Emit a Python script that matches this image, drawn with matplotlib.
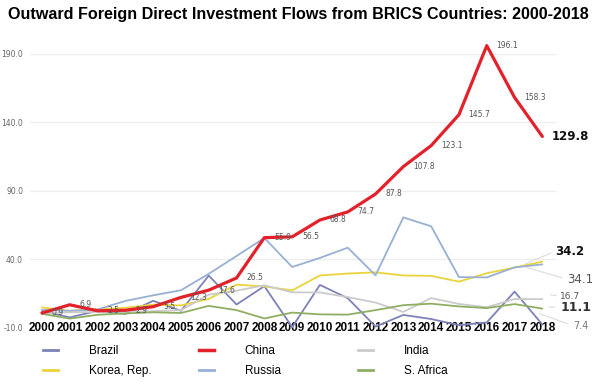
import matplotlib
matplotlib.use("Agg")
from matplotlib import pyplot as plt
from matplotlib.lines import Line2D

# Outward FDI flows, US$ billions
years = list(range(2000, 2019))
brazil = [2.3, -2.3, 2.5, 0.2, 9.8, 2.5, 28.2, 7.1, 20.5, -9.4, 21.4, 11.7,
          -9.0, -0.5, -3.5, -8.0, -6.0, 16.5, -7.5]
china = [0.9, 6.9, 2.5, 2.9, 5.5, 12.3, 17.6, 26.5, 55.9, 56.5, 68.8, 74.7,
         87.8, 107.8, 123.1, 145.7, 196.1, 158.3, 129.8]
india = [0.5, 1.4, 1.7, 1.9, 2.2, 3.0, 14.3, 17.2, 21.1, 16.0, 15.9, 12.5,
         8.5, 1.7, 11.8, 7.5, 5.1, 11.1, 11.0]
korea = [5.0, 2.4, 3.6, 4.7, 7.0, 6.4, 11.2, 21.6, 20.3, 17.4, 28.3, 29.7,
         30.6, 28.3, 28.0, 23.8, 29.9, 34.1, 38.4]
russia = [3.2, 2.5, 3.5, 9.7, 13.8, 17.5, 29.5, 42.5, 55.7, 34.5, 41.1, 48.6,
          28.4, 70.7, 64.2, 27.1, 26.9, 34.2, 36.4]
s_africa = [0.3, -3.2, -0.4, 0.6, 1.4, 0.9, 6.1, 3.0, -3.1, 1.2, -0.1, -0.3,
            3.0, 6.6, 7.7, 5.7, 4.5, 7.4, 4.1]

y_ticks = [-10, 40, 90, 140, 190]

# side labels printed at the right edge of the chart
side_labels = ["34.2", "34.1", "16.7", "11.1", "7.4"]
side_label_y = [45.5, 25.7, 12.7, 4.6, -8.6]

series = [
    ("Brazil", brazil, "#7d82b8", 1.3),
    ("Korea, Rep.", korea, "#e9d43c", 1.3),
    ("China", china, "#e3212b", 2.3),
    ("Russia", russia, "#98b0d2", 1.3),
    ("India", india, "#cbcbcb", 1.3),
    ("S. Africa", s_africa, "#8fae62", 1.3),
]

fig = plt.figure(figsize=(6, 3.89), dpi=100)
ax = fig.add_axes([0.05, 0.157, 0.878, 0.757])

x = list(range(len(years)))
for name, vals, color, lw in series:
    z = 3 if name == "China" else 2
    ax.plot(x, vals, color=color, lw=lw, zorder=z, solid_capstyle="round")

# data labels for China
for i, v in enumerate(china):
    if i == len(china) - 1:
        ax.annotate(f"{v:.1f}", (i, v), xytext=(7, 0), textcoords="offset points",
                    ha="left", va="center", fontsize=8.5, fontweight="bold",
                    color="#111111", family="DejaVu Sans")
    else:
        ax.annotate(f"{v:.1f}", (i, v), xytext=(7, 0), textcoords="offset points",
                    ha="left", va="center", fontsize=5.5, color="#555555",
                    family="DejaVu Sans", zorder=4)

# right-hand labels with faint leader lines
side_x = [18.45, 18.9, 18.65, 18.65, 19.1]
leader_from = [(17.3, 36), (17.3, 35), (18.2, 14.5), (18.15, 5.5), (17.8, 1.0)]
leader_to = [(18.4, 45.5), (18.8, 26.0), (18.6, 13.2), (18.55, 5.0), (19.0, -7.5)]
side_style = [
    dict(fontsize=8.5, fontweight="bold", color="#111111"),
    dict(fontsize=8.5, color="#555555"),
    dict(fontsize=6.5, color="#555555"),
    dict(fontsize=9, fontweight="bold", color="#333333"),
    dict(fontsize=7, color="#777777"),
]
for txt, xv, yv, st, p0, p1 in zip(side_labels, side_x, side_label_y, side_style,
                                   leader_from, leader_to):
    ax.annotate("", xy=p1, xytext=p0, annotation_clip=False,
                arrowprops=dict(arrowstyle="-", color="#dcdcdc", lw=0.8))
    ax.text(xv, yv, txt, ha="left", va="center", family="DejaVu Sans",
            clip_on=False, **st)

ax.set_xlim(-0.43, 18.52)
ax.set_ylim(-10, 205)
ax.set_yticks(y_ticks)
ax.set_yticklabels([f"{t:.1f}" for t in y_ticks], fontsize=5.5, color="#666666")
ax.set_xticks(x)
ax.set_xticklabels([str(y) for y in years], fontsize=8.5, fontweight="bold",
                   family="Liberation Sans", va="center")
ax.tick_params(axis="x", length=0, pad=0)
ax.tick_params(axis="y", length=0, pad=5)
ax.grid(axis="y", color="#eeeeee", lw=0.9)
ax.set_axisbelow(True)
for s in ax.spines.values():
    s.set_visible(False)

fig.text(0.013, 0.963, "Outward Foreign Direct Investment Flows from BRICS Countries: 2000-2018",
         fontsize=11.6, fontweight="bold", family="Liberation Sans", va="center", ha="left")

# legend: three columns placed one by one
legend_cols = [(0.071, [0, 1]), (0.331, [2, 3]), (0.596, [4, 5])]
for xpos, idx in legend_cols:
    hs = [Line2D([], [], color=series[i][2], lw=2.5 if series[i][0] == "China" else 2.0)
          for i in idx]
    ls = [series[i][0] for i in idx]
    leg = fig.legend(hs, ls, loc="upper left", bbox_to_anchor=(xpos, 0.112),
                     frameon=False, handlelength=1.3, handletextpad=2.6,
                     labelspacing=0.65, borderaxespad=0, borderpad=0,
                     prop={"family": "Liberation Sans", "size": 8.5})

fig.savefig("out.png", dpi=100)
